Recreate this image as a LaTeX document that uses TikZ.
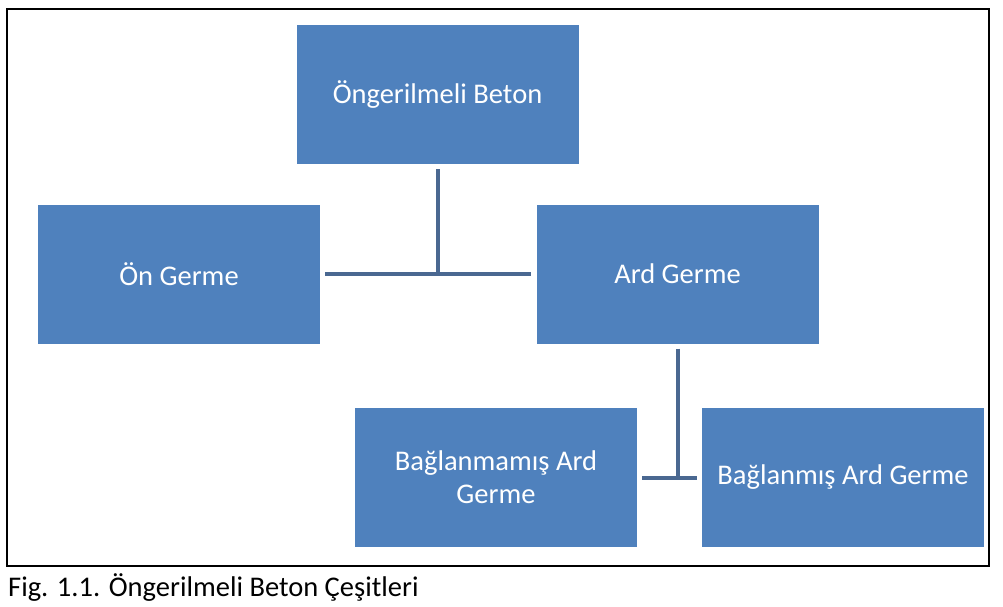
\documentclass[tikz,border=0pt]{standalone}
\usepackage{fontspec}
\setmainfont{Carlito}
\begin{document}
\begin{tikzpicture}[x=1pt,y=-1pt,
  box/.style={draw=none,fill=boxblue,minimum width=282pt,minimum height=139pt,inner sep=0pt,
    text=white,font=\fontsize{28.5}{33}\selectfont,align=center},
  conn/.style={draw=connblue,line width=4pt}]
\definecolor{boxblue}{HTML}{4F81BD}
\definecolor{connblue}{HTML}{4A6891}
\useasboundingbox (0,0) rectangle (1003,607);
\draw[line width=1.6pt] (7,9) rectangle (989,566);
\node[box] (top) at (437.5,94.5) {Öngerilmeli Beton};
\node[box] (on) at (179,274) {Ön Germe};
\node[box] (ard) at (677.5,274) {Ard Germe};
\node[box] (b1) at (496,477.5) {Bağlanmamış Ard\\Germe};
\node[box] (b2) at (843,477.5) {Bağlanmış Ard Germe};
\draw[conn,shorten <=5pt] (top.south) -- (top.south |- on.east);
\draw[conn,shorten <=5pt,shorten >=5pt] (on.east) -- (ard.west);
\draw[conn,shorten <=5pt] (ard.south) -- (ard.south |- b2.west);
\draw[conn,shorten <=5pt,shorten >=5pt] (b1.east) -- (b2.west);
\node[anchor=base west,inner sep=0pt,font=\fontsize{28.5}{33}\selectfont] (cap) at (8,596) {Fig. 1.1. Öngerilmeli Beton Çeşitleri};
\end{tikzpicture}
\end{document}
